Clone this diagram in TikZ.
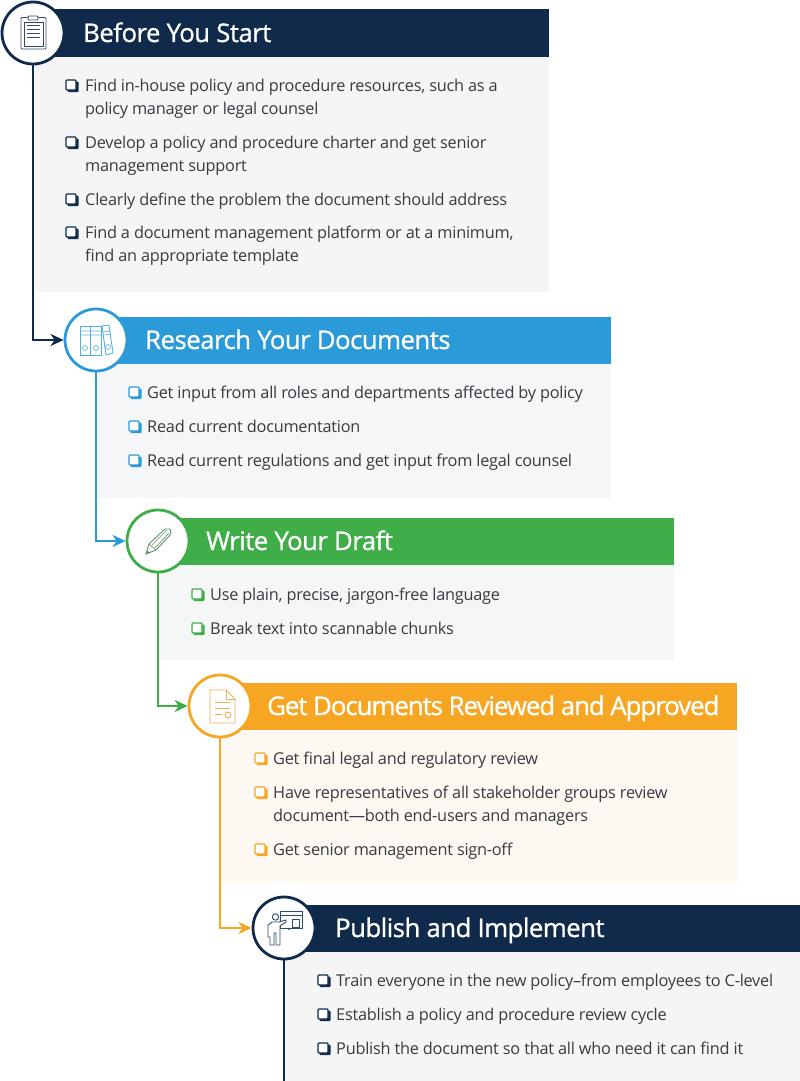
\documentclass[tikz,border=0pt]{standalone}
\usepackage{fontspec}
\setmainfont[LetterSpace=-1.5]{Open Sans}
\newfontfamily\headfont[FakeBold=0.9, LetterSpace=-1.9]{Open Sans}
\usetikzlibrary{arrows.meta}
\definecolor{navy}{HTML}{0F2A4A}
\definecolor{bluec}{HTML}{2A9AD8}
\definecolor{greenc}{HTML}{3FAE49}
\definecolor{orangec}{HTML}{F6A623}
\definecolor{paneg}{HTML}{F5F5F5}
\definecolor{paneb}{HTML}{F4F6F8}
\definecolor{panev}{HTML}{F4F7F5}
\definecolor{paneo}{HTML}{FDF8F2}
\definecolor{bodyc}{HTML}{3A3A42}
\newcommand\itemstrut{\rule{0pt}{16pt}}
\tikzset{
  title/.style={anchor=west, inner sep=0pt, text=white, font=\headfont\fontsize{25.7}{28}\selectfont, text height=18pt, text depth=0pt},
  item/.style={anchor=north west, inner sep=0pt, align=left, text=bodyc, font=\fontsize{16.3}{23}\selectfont, execute at begin node=\itemstrut},
  stepcircle/.style={circle, fill=white, line width=2.8pt, minimum size=62pt, inner sep=0pt},
  flow/.style={line width=2.6pt, -{Stealth[length=13pt, width=12pt, inset=4pt]}},
  icon/.style={line width=0.9pt, fill=white},
  pics/chk/.style={code={
    \fill[#1, rounded corners=1pt] (1.5,-3.5) rectangle (12.5,7);
    \draw[#1, fill=white, line width=1.2pt, rounded corners=1pt] (0,-5) rectangle (10,5);
  }}
}
\begin{document}
\begin{tikzpicture}[x=1pt, y=-1pt]
\useasboundingbox (0,0) rectangle (800,1081);
% panels
\fill[paneg] (35,57) rectangle (549,292);
\fill[navy] (33,9) rectangle (549,57);
\fill[paneb] (98,364) rectangle (611,498);
\fill[bluec] (96,317) rectangle (611,364);
\fill[panev] (160,565) rectangle (674,660);
\fill[greenc] (158,518) rectangle (674,565);
\fill[paneo] (222,730) rectangle (737,883);
\fill[orangec] (220,683) rectangle (737,730);
\fill[paneg] (285,952) rectangle (800,1081);
\fill[navy] (284,905) rectangle (800,952);
% circles
\node[stepcircle, draw=navy] (clipboard) at (33,33) {};
\node[stepcircle, draw=bluec] (binders) at (96,340) {};
\node[stepcircle, draw=greenc] (pencil) at (158,541) {};
\node[stepcircle, draw=orangec] (document) at (220,706) {};
\node[stepcircle, draw=navy] (presenter) at (284,928) {};
\coordinate (pageend) at (284,1081);
% connectors
\draw[flow, navy] (clipboard.south) |- (binders.west);
\draw[flow, bluec] (binders.south) |- (pencil.west);
\draw[flow, greenc] (pencil.south) |- (document.west);
\draw[flow, orangec] (document.south) |- (presenter.west);
\draw[navy, line width=2.6pt] (presenter.south) -- (pageend);
% clipboard icon
\begin{scope}[shift={(33,33)}, navy!85!white]
\draw[icon, rounded corners=1pt] (-12,-15.5) rectangle (13,16);
\draw[icon] (-9,-11) rectangle (10,13);
\draw[icon, rounded corners=1pt] (-5,-17) rectangle (5,-13);
\draw[line width=0.9pt] (-6,-8) -- (7,-8) (-6,-4) -- (7,-4) (-6,0) -- (7,0) (-6,4) -- (7,4);
\end{scope}
% binders icon
\begin{scope}[shift={(96,340)}, bluec!80!white]
\draw[icon] (-16,-14) rectangle (-6,15);
\draw[icon] (-6,-14) rectangle (5,15);
\draw[icon] (6,-14) -- (13,-15) -- (17,13) -- (10,15) -- cycle;
\draw[line width=0.6pt] (-16,-9) -- (5,-9) (-16,-5) -- (5,-5) (7,-8) -- (14,-9) (7.5,-5) -- (14.5,-6);
\draw[line width=0.6pt] (-11,8) circle (2.5) (0,8) circle (2.5) (12,7) circle (2.5);
\end{scope}
% pencil icon
\begin{scope}[shift={(158,541)}, greenc!45!gray]
\draw[icon] (-12,13) -- (-9,3) -- (7,-12) -- (12,-12) -- (13,-7) -- (-2,9) -- cycle;
\draw[line width=0.6pt] (-9,3) -- (-2,9) (-6,4) -- (9,-11) (-3,7) -- (11,-8);
\fill (-12,13) -- (-11,9) -- (-8,12) -- cycle;
\end{scope}
% document icon
\begin{scope}[shift={(220,706)}, orangec!70!brown!80!white]
\draw[icon] (-10,-16) -- (6,-16) -- (15,-7) -- (15,17) -- (-10,17) -- cycle;
\draw[line width=0.9pt] (6,-16) -- (6,-7) -- (15,-7);
\draw[line width=0.9pt] (-5,-4) -- (10,-4) (-5,2) -- (10,2) (-5,8) -- (2,8);
\draw[icon] (8,9) circle (3);
\end{scope}
% presenter icon
\begin{scope}[shift={(284,928)}, navy!85!white]
\draw[icon] (-4,-17) rectangle (18,0);
\draw[line width=0.6pt] (-4,-13) -- (18,-13);
\draw[icon] (8,-9) rectangle (15,-1);
\fill (5,1) circle (1.2);
\draw[icon] (-8.5,-11) circle (3.2);
\draw[icon] (-16,9) -- (-16,-3) -- (-12,-6) -- (-5,-6) -- (2,-8) -- (2,-6) -- (-4,-2) -- (-4,17) -- (-8,17) -- (-8,5) -- (-10,5) -- (-10,17) -- (-14,17) -- (-14,9) -- cycle;
\end{scope}
% titles
\draw (83,33) node[title] (starttitle) {Before You Start};
\draw (145,340) node[title] (researchtitle) {Research Your Documents};
\draw (206,541) node[title] (drafttitle) {Write Your Draft};
\draw (267,706) node[title] (reviewtitle) {\addfontfeatures{LetterSpace=-3.8}Get Documents Reviewed and Approved};
\draw (335,928) node[title] (publishtitle) {Publish and Implement};
% before you start
\pic at (66,85) {chk=navy};
\pic at (66,142) {chk=navy};
\pic at (66,199) {chk=navy};
\pic at (66,232) {chk=navy};
\draw (85,79) node[item] (startone) {Find in-house policy and procedure resources, such as a\\policy manager or legal counsel};
\draw (85,136) node[item] (starttwo) {Develop a policy and procedure charter and get senior\\management support};
\draw (85,189) node[item] (startthree) {Clearly define the problem the document should address};
\draw (85,226) node[item] (startfour) {Find a document management platform or at a minimum,\\find an appropriate template};
% research
\pic at (129,392) {chk=bluec};
\pic at (129,426) {chk=bluec};
\pic at (129,460) {chk=bluec};
\draw (147,382) node[item] (researchone) {Get input from all roles and departments affected by policy};
\draw (147,416) node[item] (researchtwo) {Read current documentation};
\draw (147,450) node[item] (researchthree) {Read current regulations and get input from legal counsel};
% draft
\pic at (192,594) {chk=greenc};
\pic at (192,628) {chk=greenc};
\draw (210,584) node[item] (draftone) {Use plain, precise, jargon-free language};
\draw (210,618) node[item] (drafttwo) {Break text into scannable chunks};
% review
\pic at (255,758) {chk=orangec};
\pic at (255,792) {chk=orangec};
\pic at (255,849) {chk=orangec};
\draw (273,748) node[item] (reviewone) {Get final legal and regulatory review};
\draw (273,786) node[item] (reviewtwo) {Have representatives of all stakeholder groups review\\document—both end-users and managers};
\draw (273,839) node[item] (reviewthree) {Get senior management sign-off};
% publish
\pic at (318,980) {chk=navy};
\pic at (318,1014) {chk=navy};
\pic at (318,1048) {chk=navy};
\draw (336,970) node[item] (publishone) {Train everyone in the new policy–from employees to C-level};
\draw (336,1004) node[item] (publishtwo) {Establish a policy and procedure review cycle};
\draw (336,1038) node[item] (publishthree) {Publish the document so that all who need it can find it};
\end{tikzpicture}
\end{document}
